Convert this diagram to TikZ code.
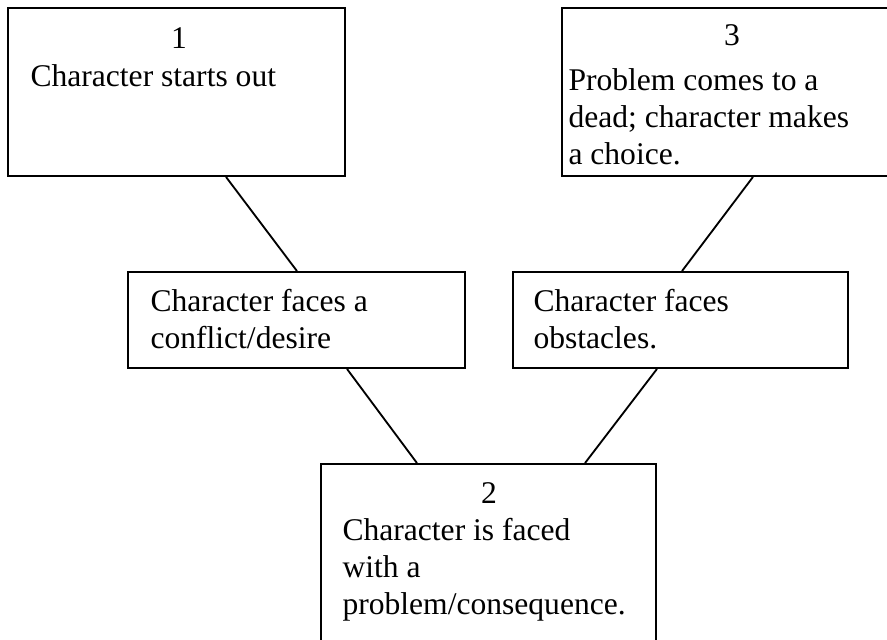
\documentclass[tikz,border=0pt]{standalone}
\usepackage{fontspec}
\setmainfont{Liberation Serif}
\usepackage{tikz}
\usetikzlibrary{fit}

\begin{document}
\begin{tikzpicture}[x=0.38pt, y=-0.38pt,
    font=\fontsize{12}{14}\selectfont,
    box/.style={draw, line width=0.7pt, inner sep=0pt},
    lbl/.style={inner sep=0pt, anchor=base west, align=left},
    num/.style={inner sep=0pt, anchor=base}]
      \useasboundingbox (0,0) rectangle (887,639);
      \clip (0,0) rectangle (887,639);
      % Top boxes (text placed by the baseline of its last line)
      \node[box, fit={(8,8) (345,176)}] (one) {};
      \node[num] (onenum) at (179,48) {1};
      \node[lbl] (onetxt) at (30,86) {Character starts out};
      \node[box, fit={(562,8) (902,176)}] (three) {};
      \node[num] (threenum) at (732,45) {3};
      \node[lbl] (threetxt) at (568,164) {Problem comes to a\\dead; character makes\\a choice.};
      % Middle boxes
      \node[box, fit={(128,272) (465,368)}] (desire) {};
      \node[lbl] (desiretxt) at (150,348) {Character faces a\\conflict/desire};
      \node[box, fit={(513,272) (848,368)}] (obstacles) {};
      \node[lbl] (obstaclestxt) at (533,348) {Character faces\\obstacles.};
      % Bottom box
      \node[box, fit={(321,464) (656,660)}] (two) {};
      \node[num] (twonum) at (489,503) {2};
      \node[lbl] (twotxt) at (342,614) {Character is faced\\with a\\problem/consequence.};
      % Connectors
      \draw[line width=0.7pt] (one.south -| 226,0) -- (desire.north -| 297,0);
      \draw[line width=0.7pt] (three.south -| 753,0) -- (obstacles.north -| 682,0);
      \draw[line width=0.7pt] (desire.south -| 347,0) -- (two.north -| 417,0);
      \draw[line width=0.7pt] (obstacles.south -| 657,0) -- (two.north -| 585,0);
    \end{tikzpicture}
\end{document}
